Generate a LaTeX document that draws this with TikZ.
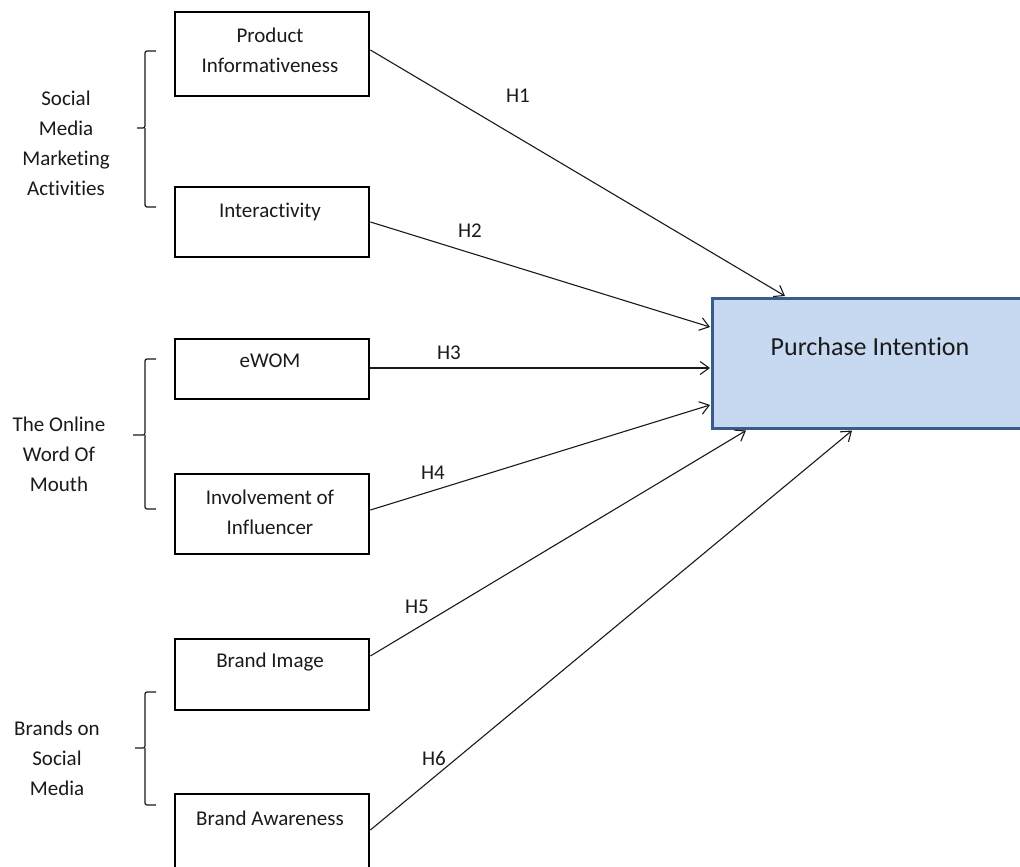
\documentclass[tikz,border=0pt]{standalone}
\usepackage{fontspec}
\setmainfont{Carlito}[Ligatures={NoCommon,NoRequired,NoContextual}]
\usetikzlibrary{calc,arrows.meta}
\definecolor{piFill}{HTML}{C6D9F1}
\definecolor{piDraw}{HTML}{385D8A}
\definecolor{ink}{HTML}{1A1A1A}
\begin{document}
\begin{tikzpicture}[x=1pt,y=-1pt,
  box/.style={draw=black, line width=2.4pt, minimum width=194pt, inner sep=0pt, anchor=north west},
  txt/.style={font=\fontsize{21}{30}\selectfont, text=ink, align=center, inner sep=0pt},
  hyp/.style={font=\fontsize{21}{24}\selectfont, text=ink, inner sep=0pt},
  brace/.style={draw=ink, line width=1.2pt, rounded corners=2pt},
  conn/.style={draw=ink, line width=1.1pt, -{Straight Barb[length=9pt,width=13pt,line width=1.1pt]}},
]
\clip (0,0) rectangle (1020,867);
\fill[white] (0,0) rectangle (1020,867);

% boxes
\node[box, minimum height=84pt] (b1) at (174,11) {};
\node[box, minimum height=70pt] (b2) at (174,186) {};
\node[box, minimum height=60pt] (b3) at (174,338) {};
\node[box, minimum height=80pt] (b4) at (174,473) {};
\node[box, minimum height=71pt] (b5) at (174,638) {};
\node[box, minimum height=95pt] (b6) at (174,793) {};
\node[draw=piDraw, fill=piFill, line width=2.5pt, anchor=north west, minimum width=330pt, minimum height=130pt, inner sep=0pt] (pi) at (711,297) {};

% box texts
\node[txt] (t1) at (270,50) {Product\\Informativeness};
\node[txt] (t2) at (270,212) {Interactivity};
\node[txt] (t3) at (270,361) {eWOM};
\node[txt] (t4) at (270,512) {Involvement of\\Influencer};
\node[txt] (t5) at (270,662) {Brand Image};
\node[txt] (t6) at (270,818) {Brand Awareness};
\node[font=\fontsize{26}{30}\selectfont, text=ink, inner sep=0pt] (tpi) at (870,347) {Purchase Intention};

% group labels
\node[txt] (g1) at (66,143) {Social\\Media\\Marketing\\Activities};
\node[txt] (g2) at (59,454) {The Online\\Word Of\\Mouth};
\node[txt] (g3) at (57,758) {Brands on\\Social\\Media};

% braces
\draw[brace] (156,51) -- (145,51) -- (145,128) -- (137,128);
\draw[brace] (145,128) -- (145,207) -- (156,207);
\draw[brace] (156,359) -- (145,359) -- (145,435) -- (133,435);
\draw[brace] (145,435) -- (145,509) -- (156,509);
\draw[brace] (156,692) -- (145,692) -- (145,748) -- (135,748);
\draw[brace] (145,748) -- (145,805) -- (156,805);

% connectors
\draw[conn] ($(b1.north east)+(0,39)$) -- ($(pi.north west)+(74,-1)$);
\draw[conn] ($(b2.north east)+(0,36)$) -- ($(pi.north west)+(-1,30)$);
\draw[conn] ($(b3.north east)+(0,30)$) -- ($(pi.north west)+(-1,71)$);
\draw[conn] ($(b4.north east)+(0,37)$) -- ($(pi.north west)+(-1,108)$);
\draw[conn] ($(b5.north east)+(0,18)$) -- ($(pi.south west)+(35,1)$);
\draw[conn] ($(b6.north east)+(0,37)$) -- ($(pi.south west)+(141,1)$);

% hypothesis labels
\node[hyp] (h1) at (518,96) {H1};
\node[hyp] (h2) at (470,231) {H2};
\node[hyp] (h3) at (449,353) {H3};
\node[hyp] (h4) at (433,473) {H4};
\node[hyp] (h5) at (417,607) {H5};
\node[hyp] (h6) at (434,758) {H6};
\end{tikzpicture}
\end{document}
